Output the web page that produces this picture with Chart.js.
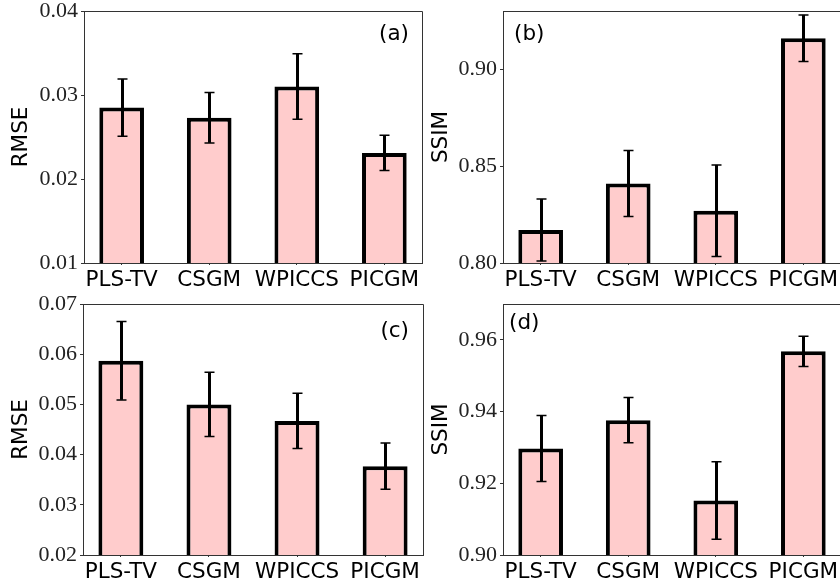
<!DOCTYPE html>
<html><head><meta charset="utf-8">
<script src="https://cdn.jsdelivr.net/npm/chart.js@4"></script>
<style>
html,body{margin:0;padding:0;background:#fff;width:840px;height:581px;overflow:hidden;position:relative}
canvas{position:absolute}
</style></head><body>
<canvas id="ca" width="430" height="290" style="left:0;top:0"></canvas>
<canvas id="cb" width="430" height="290" style="left:420px;top:0"></canvas>
<canvas id="cc" width="430" height="291" style="left:0;top:290px"></canvas>
<canvas id="cd" width="430" height="291" style="left:420px;top:290px"></canvas>
<script>
// ---- data ----
const categories = ['PLS-TV', 'CSGM', 'WPICCS', 'PICGM'];
const rmseA = [0.0285, 0.0273, 0.0310, 0.0231];
const rmseAErr = [0.0034, 0.0030, 0.0039, 0.0021];
const ssimB = [0.817, 0.841, 0.827, 0.916];
const ssimBErr = [0.016, 0.017, 0.0236, 0.012];
const rmseC = [0.0587, 0.0500, 0.0467, 0.0377];
const rmseCErr = [0.0078, 0.0064, 0.0055, 0.0046];
const ssimD = [0.9297, 0.9376, 0.9152, 0.9568];
const ssimDErr = [0.0092, 0.0063, 0.0108, 0.0042];
const yTicksA = [0.01, 0.02, 0.03, 0.04];
const yTicksB = [0.80, 0.85, 0.90];
const yTicksC = [0.02, 0.03, 0.04, 0.05, 0.06, 0.07];
const yTicksD = [0.90, 0.92, 0.94, 0.96];
const panelLabels = ['(a)', '(b)', '(c)', '(d)'];

const SANS = 'DejaVu Sans';
const SERIF = 'Liberation Serif';
const X_MIN = -0.43, X_MAX = 3.43;

const errPlugin = {
  id: 'errbars',
  afterDatasetsDraw(chart) {
    const ds = chart.data.datasets[0];
    const meta = chart.getDatasetMeta(0);
    const ys = chart.scales.y;
    const ctx = chart.ctx;
    const a = chart.chartArea;
    ctx.save();
    ctx.beginPath();
    ctx.rect(a.left, a.top - 6, a.right - a.left, a.bottom - a.top + 6);
    ctx.clip();
    ctx.strokeStyle = '#000';
    meta.data.forEach((bar, i) => {
      const v = ds.data[i].y, e = ds.errors[i];
      const x = Math.round(bar.x) + 0.5;
      const t = ys.getPixelForValue(v + e), b = ys.getPixelForValue(v - e);
      ctx.lineWidth = 3;
      ctx.beginPath(); ctx.moveTo(x, t); ctx.lineTo(x, b); ctx.stroke();
      ctx.lineWidth = 1.5;
      ctx.beginPath();
      ctx.moveTo(x - 5, t); ctx.lineTo(x + 5, t);
      ctx.moveTo(x - 5, b); ctx.lineTo(x + 5, b);
      ctx.stroke();
    });
    ctx.restore();
  }
};

const framePlugin = {
  id: 'frame',
  afterDraw(chart) {
    const a = chart.chartArea, ctx = chart.ctx;
    const p = chart.$panel;
    ctx.save();
    ctx.strokeStyle = '#333';
    ctx.lineWidth = 1;
    ctx.beginPath();
    ctx.moveTo(a.left, Math.round(a.top) + 0.5);
    ctx.lineTo(Math.round(a.right) + 0.5, Math.round(a.top) + 0.5);
    ctx.lineTo(Math.round(a.right) + 0.5, a.bottom);
    ctx.stroke();
    ctx.fillStyle = '#000';
    ctx.font = '21.5px "' + SANS + '"';
    ctx.textBaseline = 'alphabetic';
    if (p.align === 'right') {
      ctx.textAlign = 'right';
      ctx.fillText(p.label, a.right - p.dx, a.top + p.dy);
    } else {
      ctx.textAlign = 'left';
      ctx.fillText(p.label, a.left + p.dx, a.top + p.dy);
    }
    ctx.restore();
  }
};

function zeroPad(s) { s.paddingTop = 0; s.paddingBottom = 0; s.paddingLeft = 0; s.paddingRight = 0; }

function makePanel(id, values, errors, yTicks, yMin, yMax, title, layout, label) {
  const canvas = document.getElementById(id);
  const chart = new Chart(canvas, {
    type: 'bar',
    data: {
      datasets: [{
        data: values.map((v, i) => ({ x: i, y: v })),
        errors: errors,
        backgroundColor: '#ffcccc',
        borderColor: '#000',
        borderWidth: 4,
        borderSkipped: 'start',
        barPercentage: 0.51,
        categoryPercentage: 1
      }]
    },
    options: {
      responsive: false,
      animation: false,
      devicePixelRatio: 1,
      layout: { padding: { left: 0, top: layout.top, right: layout.right, bottom: 0 } },
      plugins: { legend: { display: false }, tooltip: { enabled: false } },
      scales: {
        x: {
          type: 'linear',
          min: X_MIN, max: X_MAX,
          offset: false,
          bounds: 'data',
          afterDataLimits: s => { s.min = X_MIN; s.max = X_MAX; },
          afterBuildTicks: s => { s.min = X_MIN; s.max = X_MAX; s.ticks = categories.map((c, i) => ({ value: i })); },
          afterFit: s => { s.height = layout.xH; zeroPad(s); },
          grid: { offset: false, drawOnChartArea: false, drawTicks: true, tickLength: 2, color: '#333' },
          border: { display: true, color: '#333', width: 1 },
          ticks: {
            callback: v => categories[v],
            font: { family: SANS, size: 21.5 },
            color: '#000',
            padding: 3,
            maxRotation: 0, autoSkip: false
          }
        },
        y: {
          min: yMin, max: yMax,
          afterBuildTicks: s => { s.ticks = yTicks.map(v => ({ value: v })); },
          afterFit: s => { s.width = layout.yW; zeroPad(s); },
          grid: { drawOnChartArea: false, drawTicks: true, tickLength: 3, color: '#333' },
          border: { display: true, color: '#333', width: 1 },
          ticks: {
            callback: v => Number(v).toFixed(2),
            font: { family: SERIF, size: 22 },
            color: '#222',
            padding: 3
          },
          title: {
            display: true, text: title,
            font: { family: SANS, size: 21.5 },
            color: '#000',
            padding: { top: 9, bottom: 0 }
          }
        }
      }
    },
    plugins: [errPlugin, {
      id: 'panelInit',
      beforeInit(c) { c.$panel = label; }
    }, framePlugin]
  });
  return chart;
}

makePanel('ca', rmseA, rmseAErr, yTicksA, 0.01, 0.04, 'RMSE',
  { top: 11, right: 8, xH: 27, yW: 84 }, { label: panelLabels[0], align: 'right', dx: 13, dy: 28.5 });
makePanel('cb', ssimB, ssimBErr, yTicksB, 0.80, 0.93, 'SSIM',
  { top: 11, right: 9, xH: 27, yW: 83 }, { label: panelLabels[1], align: 'left', dx: 11, dy: 28.5 });
makePanel('cc', rmseC, rmseCErr, yTicksC, 0.02, 0.07, 'RMSE',
  { top: 14, right: 7, xH: 26, yW: 83 }, { label: panelLabels[2], align: 'right', dx: 14, dy: 33 });
makePanel('cd', ssimD, ssimDErr, yTicksD, 0.90, 0.97, 'SSIM',
  { top: 14, right: 9, xH: 26, yW: 83 }, { label: panelLabels[3], align: 'left', dx: 6, dy: 25 });
</script>
</body></html>
